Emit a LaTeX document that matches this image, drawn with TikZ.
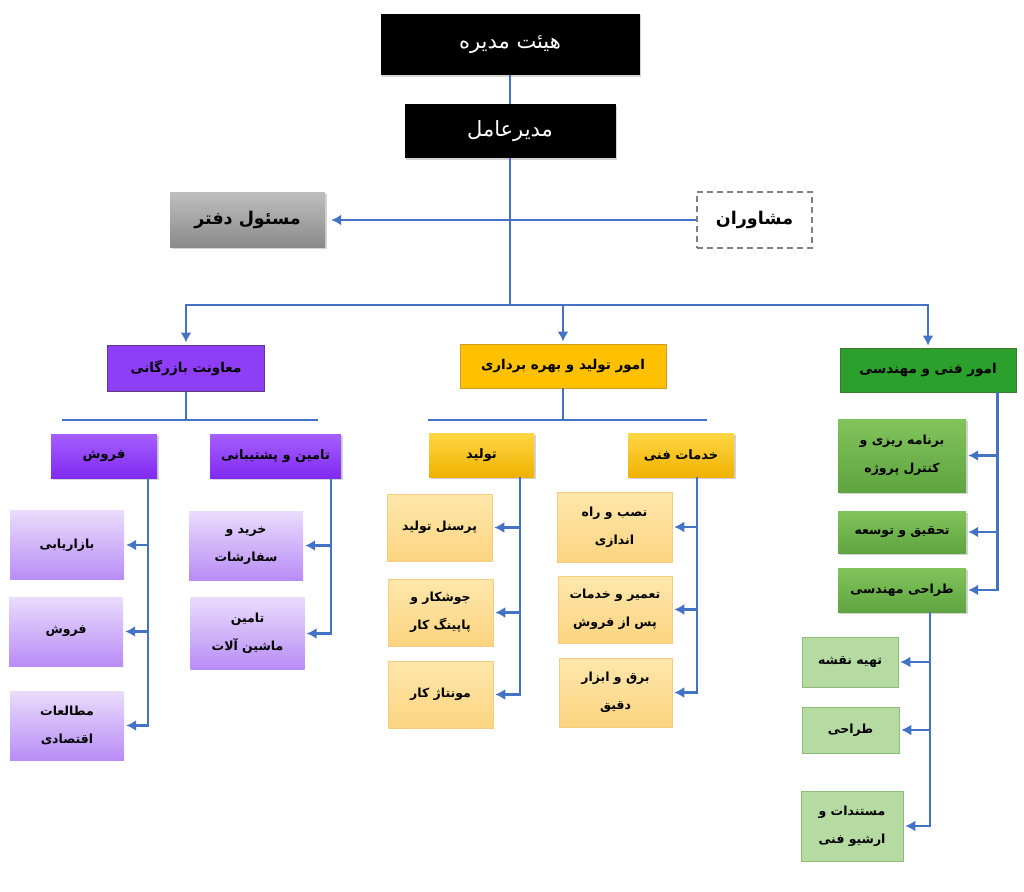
\documentclass[tikz,border=0pt]{standalone}
\usepackage{fontspec}
\usepackage{tikz}
\usetikzlibrary{arrows.meta,shadows}
\newfontfamily\arabicfont[Script=Arabic]{DejaVu Sans}
\TeXXeTstate=1
\newcommand{\fa}[1]{\beginR #1\endR}
\definecolor{lineblue}{RGB}{68,114,196}
\definecolor{purplemain}{RGB}{142,62,247}
\definecolor{purpleedge}{RGB}{95,60,130}
\definecolor{purpletop}{RGB}{165,95,255}
\definecolor{purplebot}{RGB}{128,42,240}
\definecolor{lilactop}{RGB}{234,220,252}
\definecolor{lilacbot}{RGB}{184,140,246}
\definecolor{goldmain}{RGB}{255,192,0}
\definecolor{goldedge}{RGB}{205,155,40}
\definecolor{goldtop}{RGB}{255,214,70}
\definecolor{goldbot}{RGB}{240,178,0}
\definecolor{peachtop}{RGB}{254,231,172}
\definecolor{peachbot}{RGB}{252,212,128}
\definecolor{peachedge}{RGB}{246,204,130}
\definecolor{greenmain}{RGB}{44,160,44}
\definecolor{greenedge}{RGB}{60,120,50}
\definecolor{greentop}{RGB}{130,196,92}
\definecolor{greenbot}{RGB}{94,164,64}
\definecolor{mintfill}{RGB}{182,219,162}
\definecolor{mintedge}{RGB}{140,190,120}
\definecolor{officetop}{RGB}{190,190,190}
\definecolor{officebot}{RGB}{138,138,138}

\begin{document}
\begin{tikzpicture}[x=1pt,y=-1pt,
    conn/.style={draw=lineblue,line width=2.2pt},
    arr/.style={conn,-{Latex[length=10pt,width=11pt]},shorten >=2pt},
    sz/.style 2 args={minimum width=#1pt,minimum height=#2pt},
    shadowed/.style={drop shadow={shadow xshift=1.5pt,shadow yshift=-1.5pt,opacity=0.35}},
    box/.style={inner sep=1pt,align=center,font=\arabicfont\bfseries\fontsize{12.5}{28}\selectfont},
    topbox/.style={box,fill=black,text=white,shadowed,font=\arabicfont\fontsize{21}{24}\selectfont},
    officebox/.style={box,top color=officetop,bottom color=officebot,shadowed,font=\arabicfont\bfseries\fontsize{17.5}{20}\selectfont},
    adviserbox/.style={box,fill=white,draw=gray,line width=1.2pt,dash pattern=on 6pt off 4pt,font=\arabicfont\bfseries\fontsize{17.5}{20}\selectfont},
    purplemainbox/.style={box,fill=purplemain,draw=purpleedge,line width=1pt,font=\arabicfont\bfseries\fontsize{13.5}{20}\selectfont},
    purplehead/.style={box,top color=purpletop,bottom color=purplebot,shadowed,font=\arabicfont\bfseries\fontsize{13}{20}\selectfont},
    purplesub/.style={box,top color=lilactop,bottom color=lilacbot},
    goldmainbox/.style={box,fill=goldmain,draw=goldedge,line width=0.8pt,font=\arabicfont\bfseries\fontsize{13.5}{20}\selectfont},
    goldhead/.style={box,top color=goldtop,bottom color=goldbot,shadowed,font=\arabicfont\bfseries\fontsize{13}{20}\selectfont},
    goldsub/.style={box,top color=peachtop,bottom color=peachbot,draw=peachedge,line width=0.6pt},
    greenmainbox/.style={box,fill=greenmain,draw=greenedge,line width=0.8pt,font=\arabicfont\bfseries\fontsize{13.5}{20}\selectfont},
    greensub/.style={box,top color=greentop,bottom color=greenbot,shadowed},
    mintsub/.style={box,fill=mintfill,draw=mintedge,line width=0.6pt}]
    \useasboundingbox (0,0) rectangle (1024,891);

    \coordinate (bus) at (510,305);
    \coordinate (cbarl) at (62,420);
    \coordinate (cbarr) at (318,420);
    \coordinate (obarl) at (428,420);
    \coordinate (obarr) at (707,420);

    \node[topbox,sz={259}{61}] (board) at (510,44.5) {\fa{هیئت مدیره}};
    \node[topbox,sz={211}{54}] (ceo) at (510,131) {\fa{مدیرعامل}};
    \node[officebox,sz={155}{55}] (office) at (247.5,220) {\fa{مسئول دفتر}};
    \node[adviserbox,sz={115}{56}] (advisers) at (754.5,220) {\fa{مشاوران}};

    \node[purplemainbox,sz={157}{46}] (commerce) at (186,368) {\fa{معاونت بازرگانی}};
    \node[goldmainbox,sz={206}{44}] (operation) at (563,366) {\fa{امور تولید و بهره برداری}};
    \node[greenmainbox,sz={176}{44}] (technical) at (928,370) {\fa{امور فنی و مهندسی}};

    \node[purplehead,sz={106}{44}] (sales) at (104,456) {\fa{فروش}};
    \node[purplehead,sz={131}{44}] (supply) at (275.5,456) {\fa{تامین و پشتیبانی}};
    \node[purplesub,sz={114}{69}] (marketing) at (67,545) {\fa{بازاریابی}};
    \node[purplesub,sz={114}{69}] (selling) at (66,631.5) {\fa{فروش}};
    \node[purplesub,sz={114}{69}] (economic) at (67,725.5) {\fa{مطالعات}\\\fa{اقتصادی}};
    \node[purplesub,sz={114}{69}] (purchase) at (246,545.5) {\fa{خرید و}\\\fa{سفارشات}};
    \node[purplesub,sz={114}{72}] (machinery) at (247.5,633.5) {\fa{تامین}\\\fa{ماشین آلات}};

    \node[goldhead,sz={105}{44}] (manufacture) at (481.5,455) {\fa{تولید}};
    \node[goldhead,sz={106}{44}] (service) at (681,455) {\fa{خدمات فنی}};
    \node[goldsub,sz={105}{67}] (personnel) at (439.5,527.5) {\fa{پرسنل تولید}};
    \node[goldsub,sz={105}{67}] (welding) at (440.5,612.5) {\fa{جوشکار و}\\\fa{پاپینگ کار}};
    \node[goldsub,sz={105}{67}] (assembly) at (440.5,694.5) {\fa{مونتاژ کار}};
    \node[goldsub,sz={115}{70}] (install) at (614.5,527) {\fa{نصب و راه}\\\fa{اندازی}};
    \node[goldsub,sz={114}{67}] (repair) at (615,609.5) {\fa{تعمیر و خدمات}\\\fa{پس از فروش}};
    \node[goldsub,sz={113}{69}] (instrument) at (615.5,692.5) {\fa{برق و ابزار}\\\fa{دقیق}};

    \node[greensub,sz={128}{73}] (planning) at (902,455.5) {\fa{برنامه ریزی و}\\\fa{کنترل پروژه}};
    \node[greensub,sz={128}{42}] (research) at (902,532) {\fa{تحقیق و توسعه}};
    \node[greensub,sz={128}{44}] (engdesign) at (902,590) {\fa{طراحی مهندسی}};
    \node[mintsub,sz={96}{50}] (drafting) at (850,662) {\fa{تهیه نقشه}};
    \node[mintsub,sz={97}{46}] (designing) at (850.5,730) {\fa{طراحی}};
    \node[mintsub,sz={102}{70}] (archive) at (852,826) {\fa{مستندات و}\\\fa{ارشیو فنی}};

    \draw[conn] (board) -- (ceo);
    \draw[conn] (ceo) -- (bus);
    \draw[arr,shorten >=6pt] (advisers) -- (office);
    \draw[arr] (bus) -| (commerce);
    \draw[arr] (bus) -| (operation);
    \draw[arr] (bus) -| (technical);

    \draw[conn] (commerce) -- (commerce |- cbarl);
    \draw[conn] (cbarl) -- (cbarr);
    \draw[arr] ([xshift=-9pt]sales.south east) |- (marketing);
    \draw[arr] ([xshift=-9pt]sales.south east) |- (selling);
    \draw[arr] ([xshift=-9pt]sales.south east) |- (economic);
    \draw[arr] ([xshift=-10pt]supply.south east) |- (purchase);
    \draw[arr] ([xshift=-10pt]supply.south east) |- (machinery);

    \draw[conn] (operation) -- (operation |- obarl);
    \draw[conn] (obarl) -- (obarr);
    \draw[arr] ([xshift=-14pt]manufacture.south east) |- (personnel);
    \draw[arr] ([xshift=-14pt]manufacture.south east) |- (welding);
    \draw[arr] ([xshift=-14pt]manufacture.south east) |- (assembly);
    \draw[arr] ([xshift=-37pt]service.south east) |- (install);
    \draw[arr] ([xshift=-37pt]service.south east) |- (repair);
    \draw[arr] ([xshift=-37pt]service.south east) |- (instrument);

    \draw[arr] ([xshift=-19pt]technical.south east) |- (planning);
    \draw[arr] ([xshift=-19pt]technical.south east) |- (research);
    \draw[arr] ([xshift=-19pt]technical.south east) |- (engdesign);
    \draw[arr] ([xshift=-36pt]engdesign.south east) |- (drafting);
    \draw[arr] ([xshift=-36pt]engdesign.south east) |- (designing);
    \draw[arr] ([xshift=-36pt]engdesign.south east) |- (archive);
\end{tikzpicture}
\end{document}
